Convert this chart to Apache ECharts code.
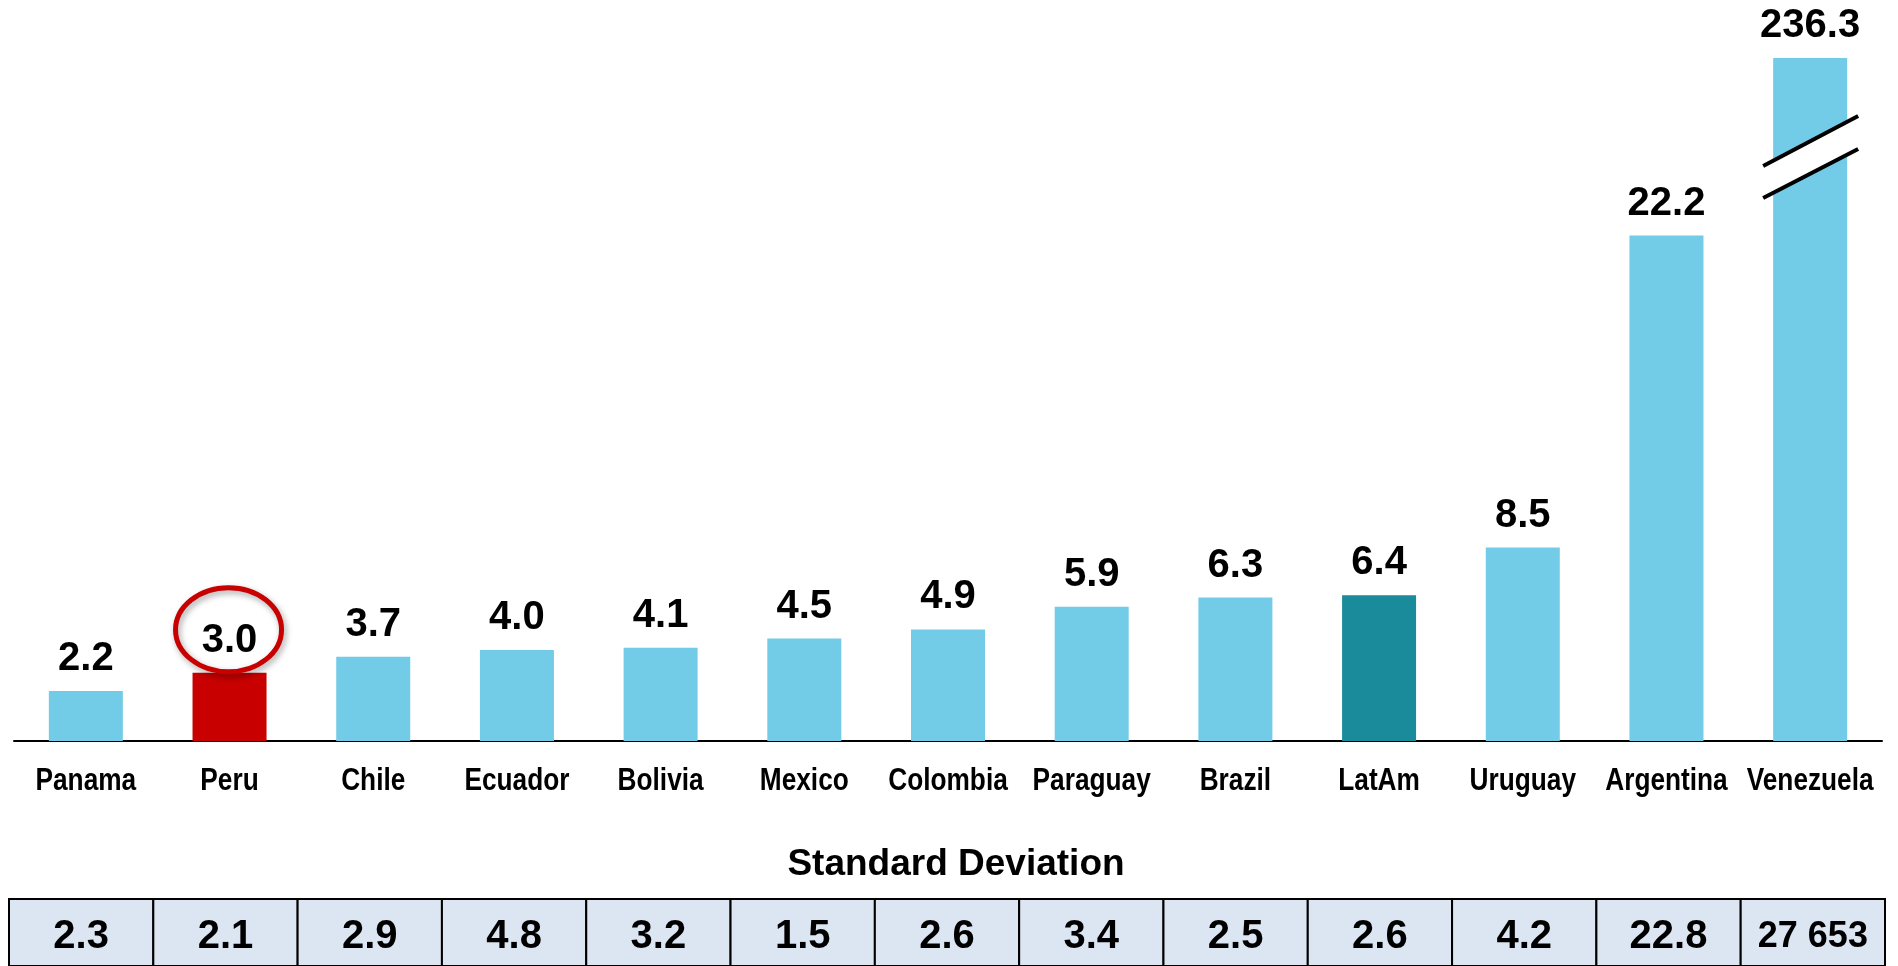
<!DOCTYPE html>
<html>
<head>
<meta charset="utf-8">
<title>Inflation volatility, Latin America</title>
<script src="https://cdn.jsdelivr.net/npm/echarts@6/dist/echarts.min.js"></script>
<style>
  html, body { margin: 0; padding: 0; background: #ffffff; }
  #chart { width: 1898px; height: 966px; }
</style>
</head>
<body>
<div id="chart"></div>
<script>
// Average inflation (%) per economy, sorted ascending
const countries = ['Panama', 'Peru', 'Chile', 'Ecuador', 'Bolivia', 'Mexico', 'Colombia',
  'Paraguay', 'Brazil', 'LatAm', 'Uruguay', 'Argentina', 'Venezuela'];
const avgInflation = [2.2, 3.0, 3.7, 4.0, 4.1, 4.5, 4.9, 5.9, 6.3, 6.4, 8.5, 22.2, 236.3];
// Standard deviation of inflation for the same economies
const stdDeviation = [2.3, 2.1, 2.9, 4.8, 3.2, 1.5, 2.6, 3.4, 2.5, 2.6, 4.2, 22.8, 27653];

const AXIS_MAX = 30;          // Venezuela runs off the top and gets a break mark
const HIGHLIGHT = 'Peru';
const AGGREGATE = 'LatAm';

const BLUE = '#72CBE7';
const RED = '#C80000';
const TEAL = '#1A8B9B';
const CELL_FILL = '#DCE6F2';

function fmtStd(v) {
  if (v >= 1000) {
    return String(Math.round(v)).replace(/\B(?=(\d{3})+(?!\d))/g, ' ');
  }
  return v.toFixed(1);
}

const barData = avgInflation.map((v, i) => {
  const name = countries[i];
  let color = BLUE;
  if (name === HIGHLIGHT) color = RED;
  if (name === AGGREGATE) color = TEAL;
  return { value: v, itemStyle: { color } };
});

const chart = echarts.init(document.getElementById('chart'), null, { renderer: 'canvas' });

const option = {
  backgroundColor: '#ffffff',
  animation: false,
  grid: [
    { left: 14, right: 16, top: 58, bottom: 225 },
    { left: 9, right: 13, top: 899, height: 76 }
  ],
  xAxis: [
    {
      type: 'category',
      gridIndex: 0,
      data: countries,
      axisLine: { show: true, lineStyle: { color: '#000000', width: 2 } },
      axisTick: { show: false },
      axisLabel: { show: false }
    },
    {
      type: 'category',
      gridIndex: 1,
      data: countries,
      show: false
    }
  ],
  yAxis: [
    { type: 'value', gridIndex: 0, min: 0, max: AXIS_MAX, show: false, splitLine: { show: false } },
    { type: 'value', gridIndex: 1, min: 0, max: 1, show: false, splitLine: { show: false } }
  ],
  series: [
    {
      type: 'bar',
      xAxisIndex: 0,
      yAxisIndex: 0,
      data: barData,
      barWidth: 74,
      clip: true,
      label: {
        show: true,
        position: 'top',
        distance: 12,
        color: '#000000',
        fontFamily: '"Liberation Sans", Arial, sans-serif',
        fontWeight: 'bold',
        fontSize: 40,
        formatter: p => avgInflation[p.dataIndex].toFixed(1)
      },
      z: 2
    },
    {
      // Category names under the axis, set in a condensed bold face
      type: 'custom',
      xAxisIndex: 0,
      yAxisIndex: 0,
      clip: false,
      silent: true,
      data: countries.map((c, i) => [i, 0]),
      renderItem: (params, api) => {
        const idx = api.value(0);
        const p = api.coord([idx, 0]);
        return {
          type: 'text',
          x: p[0],
          y: p[1] + 40,
          scaleX: 0.82,
          style: {
            text: countries[idx],
            x: 0,
            y: 0,
            align: 'center',
            verticalAlign: 'middle',
            font: 'bold 32px "Liberation Sans", Arial, sans-serif',
            fill: '#000000'
          }
        };
      }
    },
    {
      // Standard-deviation row drawn as a table under the chart
      type: 'custom',
      xAxisIndex: 1,
      yAxisIndex: 1,
      silent: true,
      data: stdDeviation.map((v, i) => [i, v]),
      renderItem: (params, api) => {
        const idx = api.value(0);
        const c = api.coord([idx, 0.5]);
        const w = api.size([1, 0])[0];
        const cs = params.coordSys;
        return {
          type: 'group',
          children: [
            {
              type: 'rect',
              shape: { x: c[0] - w / 2, y: cs.y, width: w, height: cs.height },
              style: { fill: CELL_FILL, stroke: '#000000', lineWidth: 2 }
            },
            {
              type: 'text',
              style: {
                text: fmtStd(stdDeviation[idx]),
                x: c[0],
                y: cs.y + 38,
                align: 'center',
                verticalAlign: 'middle',
                font: stdDeviation[idx] >= 1000
                  ? 'bold 36px "Liberation Sans", Arial, sans-serif'
                  : 'bold 40px "Liberation Sans", Arial, sans-serif',
                fill: '#000000'
              }
            }
          ]
        };
      }
    }
  ],
  graphic: [
    {
      type: 'text',
      x: 956,
      y: 865,
      style: {
        text: 'Standard Deviation',
        align: 'center',
        verticalAlign: 'middle',
        font: 'bold 37px "Liberation Sans", Arial, sans-serif',
        fill: '#000000'
      }
    }
  ]
};

chart.setOption(option);

// Annotations tied to bar positions: ring around the highlighted value, break on the clipped bar
function addAnnotations() {
  const hi = countries.indexOf(HIGHLIGHT);
  const hiTop = chart.convertToPixel({ gridIndex: 0 }, [hi, avgInflation[hi]]);
  const lastIdx = countries.length - 1;
  const cutTop = chart.convertToPixel({ gridIndex: 0 }, [lastIdx, AXIS_MAX]);
  const bx = cutTop[0];
  const by = cutTop[1];

  chart.setOption({
    graphic: [
      option.graphic[0],
      {
        type: 'ellipse',
        shape: { cx: hiTop[0] - 1, cy: hiTop[1] - 43, rx: 53, ry: 42 },
        style: {
          fill: 'none',
          stroke: RED,
          lineWidth: 5,
          shadowBlur: 6,
          shadowColor: 'rgba(0,0,0,0.35)',
          shadowOffsetX: 2,
          shadowOffsetY: 3
        },
        z: 10
      },
      {
        type: 'polygon',
        shape: {
          points: [
            [bx - 47, by + 108],
            [bx + 48, by + 58],
            [bx + 48, by + 91],
            [bx - 47, by + 140]
          ]
        },
        style: { fill: '#ffffff' },
        z: 10
      },
      {
        type: 'line',
        shape: { x1: bx - 47, y1: by + 108, x2: bx + 48, y2: by + 58 },
        style: { stroke: '#000000', lineWidth: 4 },
        z: 11
      },
      {
        type: 'line',
        shape: { x1: bx - 47, y1: by + 140, x2: bx + 48, y2: by + 91 },
        style: { stroke: '#000000', lineWidth: 4 },
        z: 11
      }
    ]
  }, { replaceMerge: ['graphic'] });
}

addAnnotations();
</script>
</body>
</html>
